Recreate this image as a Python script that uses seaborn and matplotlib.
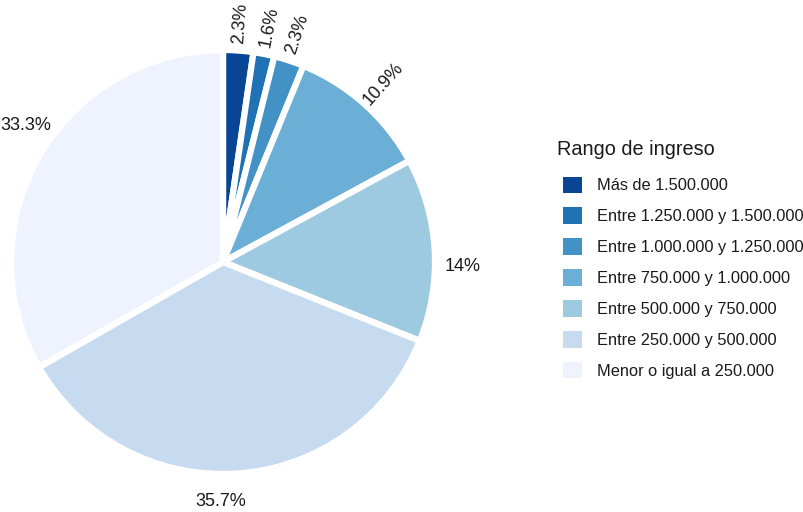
import numpy as np
import seaborn as sns
import matplotlib.pyplot as plt

# data, clockwise from 12 o'clock
rangos = ['Más de 1.500.000',
          'Entre 1.250.000 y 1.500.000',
          'Entre 1.000.000 y 1.250.000',
          'Entre 750.000 y 1.000.000',
          'Entre 500.000 y 750.000',
          'Entre 250.000 y 500.000',
          'Menor o igual a 250.000']
porcentajes = [2.3, 1.6, 2.3, 10.9, 14.0, 35.7, 33.3]
etiquetas = [f'{p:g}%' for p in porcentajes]

# colorbrewer Blues, 7 classes (dark -> light)
colors = sns.color_palette(['#084594', '#2171b5', '#4292c6', '#6baed6',
                            '#9ecae1', '#c6dbef', '#eff3ff'])

sns.set_style('white')
plt.rcParams['font.family'] = ['Liberation Sans', 'DejaVu Sans']

fig = plt.figure(figsize=(8.04, 5.12), dpi=100)
ax = fig.add_axes([0, 0, 0.6, 1])

wedges, texts = ax.pie(porcentajes, labels=etiquetas, colors=colors,
                       startangle=90, counterclock=False,
                       labeldistance=1.13,
                       wedgeprops=dict(edgecolor='white', linewidth=4.5),
                       textprops=dict(fontsize=13, color='#1a1a1a', clip_on=False))

# small slices: label rotated along the radius
# big slices: horizontal label, nudged a bit clockwise like the original
for w, t, p in zip(wedges, texts, porcentajes):
    ang = (w.theta1 + w.theta2) / 2
    t.set_ha('center')
    t.set_va('center')
    if p < 12:
        rot = ang if np.cos(np.deg2rad(ang)) >= 0 else ang + 180
        t.set_rotation(rot)
        t.set_rotation_mode('anchor')
    else:
        a = np.deg2rad(ang - 4.5)
        t.set_position((1.13 * np.cos(a), 1.13 * np.sin(a)))

# place pie: center at (223, 262) px, radius 212 px
R = 212
w_px, h_px = 0.6 * 804, 512
cx, cy = 223, 512 - 262
ax.set_aspect('auto')
ax.set_xlim(-cx / R, (w_px - cx) / R)
ax.set_ylim(-cy / R, (h_px - cy) / R)

# legend
leg = fig.legend(wedges, rangos, title='Rango de ingreso',
                 loc='upper left', bbox_to_anchor=(0.682, 0.749),
                 frameon=False, fontsize=11.8, title_fontsize=14.3,
                 handlelength=1.15, handleheight=1.15, handletextpad=0.95,
                 labelspacing=0.87, alignment='left')
for h in leg.legend_handles:
    h.set_linewidth(0)
for txt in leg.get_texts():
    txt.set_color('#1a1a1a')
leg.get_title().set_color('#1a1a1a')
leg.get_title().set_position((-6, 3))

plt.savefig('out.png', dpi=100)
